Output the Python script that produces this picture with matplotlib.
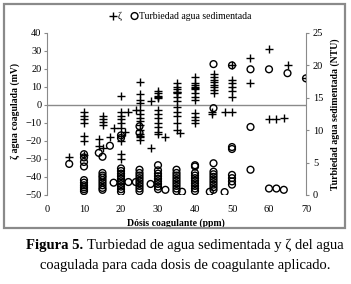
import matplotlib
matplotlib.use("Agg")
import matplotlib.pyplot as plt
from matplotlib.patches import Rectangle

plt.rcParams['font.family'] = ['Liberation Serif', 'DejaVu Serif']

# zeta potential (mV) vs dose (ppm)
zeta_dose = ([6] + [10]*7 + [14]*2 + [15]*5 + [17, 18] + [20]*10 + [21, 22, 24] + [25]*14 +
             [28]*2 + [30]*12 + [32] + [35]*13 + [36] + [40]*13 + [44.5]*2 + [45]*8 + [48] +
             [50]*7 + [55]*2 + [60]*2 + [62, 64, 65, 70])
zeta_value = ([-29] +
              [-4, -6, -8, -10, -17, -20, -28] +
              [-19, -23] +
              [-6, -8, -9.5, -11, -24] +
              [-18, -13] +
              [5, -4, -6, -8, -10, -13, -17, -20, -27, -30] +
              [-15, -4, -3] +
              [13, 6, 3, 1, -3, -5, -7, -9, -11, -14, -16, -17, -18, -19.5] +
              [2, -24] +
              [8, 6.5, 5, 4.5, 4, -3, -5, -7, -10, -12, -15, -16] +
              [-18] +
              [12, 10, 9, 7.5, 7, 6.5, 4.5, 2, -1, -4, -6, -10, -14] +
              [-15.5] +
              [15.5, 12, 11, 10, 9.5, 9, 6.5, 4.5, 3, -4.5, -6.5, -8.5, -10] +
              [-4, -5] +
              [17, 15.5, 14, 13, 11, 10, 8.5, 6.5] +
              [-4] +
              [22, 14, 12, 10, 8, 4.5, -4] +
              [26, 12] +
              [31, -8] +
              [-8, -7, 22, 15])

# settled water turbidity (NTU) vs dose (ppm)
turb_dose = ([6] + [10]*10 + [14] + [15]*9 + [17, 18] + [20]*12 + [22, 24] + [25]*11 + [28] +
             [30]*9 + [32] + [35]*9 + [36.5] + [40]*10 + [44] + [45]*11 + [48] + [50]*7 +
             [55]*3 + [60]*2 + [62, 64, 65, 70])
turb_value = ([4.8] +
              [6.3, 5.8, 5.1, 4.4, 2.3, 1.9, 1.5, 1.2, 0.9, 0.6] +
              [6.5] +
              [5.9, 3.4, 3.0, 2.7, 2.3, 1.9, 1.5, 1.1, 0.8] +
              [7.6, 1.9] +
              [9.2, 8.8, 4.1, 3.7, 3.3, 2.9, 2.5, 2.1, 1.7, 1.3, 0.9, 0.5] +
              [2.0, 2.0] +
              [10.6, 9.6, 3.9, 3.4, 3.0, 2.6, 2.2, 1.8, 1.4, 1.0, 0.6] +
              [1.7] +
              [4.6, 3.8, 3.3, 2.9, 2.5, 2.1, 1.7, 1.3, 0.9] +
              [0.8] +
              [3.9, 3.4, 3.0, 2.6, 2.2, 1.8, 1.4, 1.0, 0.6] +
              [0.5] +
              [4.6, 4.4, 3.4, 3.0, 2.6, 2.2, 1.8, 1.4, 1.0, 0.6] +
              [0.5] +
              [20.2, 13.4, 4.9, 3.6, 3.2, 2.8, 2.4, 2.0, 1.6, 1.2, 0.8] +
              [0.45] +
              [20.0, 7.4, 7.1, 3.1, 2.6, 2.1, 1.6] +
              [19.4, 10.5, 3.9] +
              [19.4, 1.0] +
              [1.0, 0.8, 18.8, 18.0])

x_ticks = [0, 10, 20, 30, 40, 50, 60, 70]
left_ticks = [-50, -40, -30, -20, -10, 0, 10, 20, 30, 40]
right_ticks = [0, 5, 10, 15, 20, 25]

W, H = 351, 284
fig = plt.figure(figsize=(W/100, H/100), dpi=100)
ax = fig.add_axes([47/W, 1-195/H, (306-47)/W, (195-33)/H])
ax2 = ax.twinx()

grey = '#8a8a8a'
fs = 7.5
lfs = 7

ax.scatter(zeta_dose, zeta_value, marker='+', s=28, c='black', linewidths=1.0, zorder=3)
ax2.scatter(turb_dose, turb_value, marker='o', s=24, facecolors='none', edgecolors='black',
            linewidths=1.0, zorder=3)

ax.set_xlim(0, 70)
ax.set_ylim(-50, 40)
ax2.set_ylim(0, 25)
ax.set_xticks(x_ticks)
ax.set_yticks(left_ticks)
ax2.set_yticks(right_ticks)
ax.axhline(0, color=grey, lw=1.0, zorder=1)

for a in (ax, ax2):
    for s in ('top', 'bottom'):
        a.spines[s].set_visible(False)
ax.spines['right'].set_visible(False)
ax2.spines['left'].set_visible(False)
ax.spines['left'].set_color(grey)
ax2.spines['right'].set_color(grey)

ax.tick_params(axis='y', direction='out', length=2.5, color=grey, labelsize=fs, pad=1.5)
ax.tick_params(axis='x', length=0, labelsize=fs, pad=7)
ax2.tick_params(axis='y', direction='out', length=2.5, color=grey, labelsize=fs, pad=2.5)

ax.set_xlabel('Dósis coagulante (ppm)', fontsize=lfs, fontweight='bold')
ax.set_ylabel('ζ agua coagulada (mV)', fontsize=lfs, fontweight='bold')
ax2.set_ylabel('Turbiedad agua sedimentada (NTU)', fontsize=lfs, fontweight='bold',
               rotation=90)
ax.xaxis.set_label_coords((176-47)/259, (195-218)/162)
ax.yaxis.set_label_coords((20-47)/259, (195-111)/162)
ax2.yaxis.set_label_coords((330-47)/259, (195-114)/162)

h1 = ax.scatter([], [], marker='+', s=28, c='black', linewidths=1.0, label='ζ')
h2 = ax.scatter([], [], marker='o', s=24, facecolors='none', edgecolors='black',
                linewidths=1.0, label='Turbiedad agua sedimentada')
fig.legend(handles=[h1, h2], loc='center', bbox_to_anchor=(180/W, 1-16/H), ncol=2,
           frameon=False, fontsize=lfs, handletextpad=0.0, columnspacing=0.8,
           handlelength=1.0, borderpad=0)

fig.patches.append(Rectangle((4/W, 1-228/H), 341/W, 224/H, transform=fig.transFigure,
                             fill=False, edgecolor=grey, lw=1.6))

t1 = fig.text(26/W, 1-245/H, 'Figura 5.', fontsize=10.5, fontweight='bold', ha='left', va='center')
fig.canvas.draw()
bb = t1.get_window_extent()
fig.text(bb.x1/W + 4/W, 1-245/H, 'Turbiedad de agua sedimentada y ζ del agua', fontsize=10.5,
         ha='left', va='center')
fig.text(185/W, 1-266/H, 'coagulada para cada dosis de coagulante aplicado.', fontsize=10.5,
         ha='center', va='center')

fig.savefig('out.png', dpi=100)
